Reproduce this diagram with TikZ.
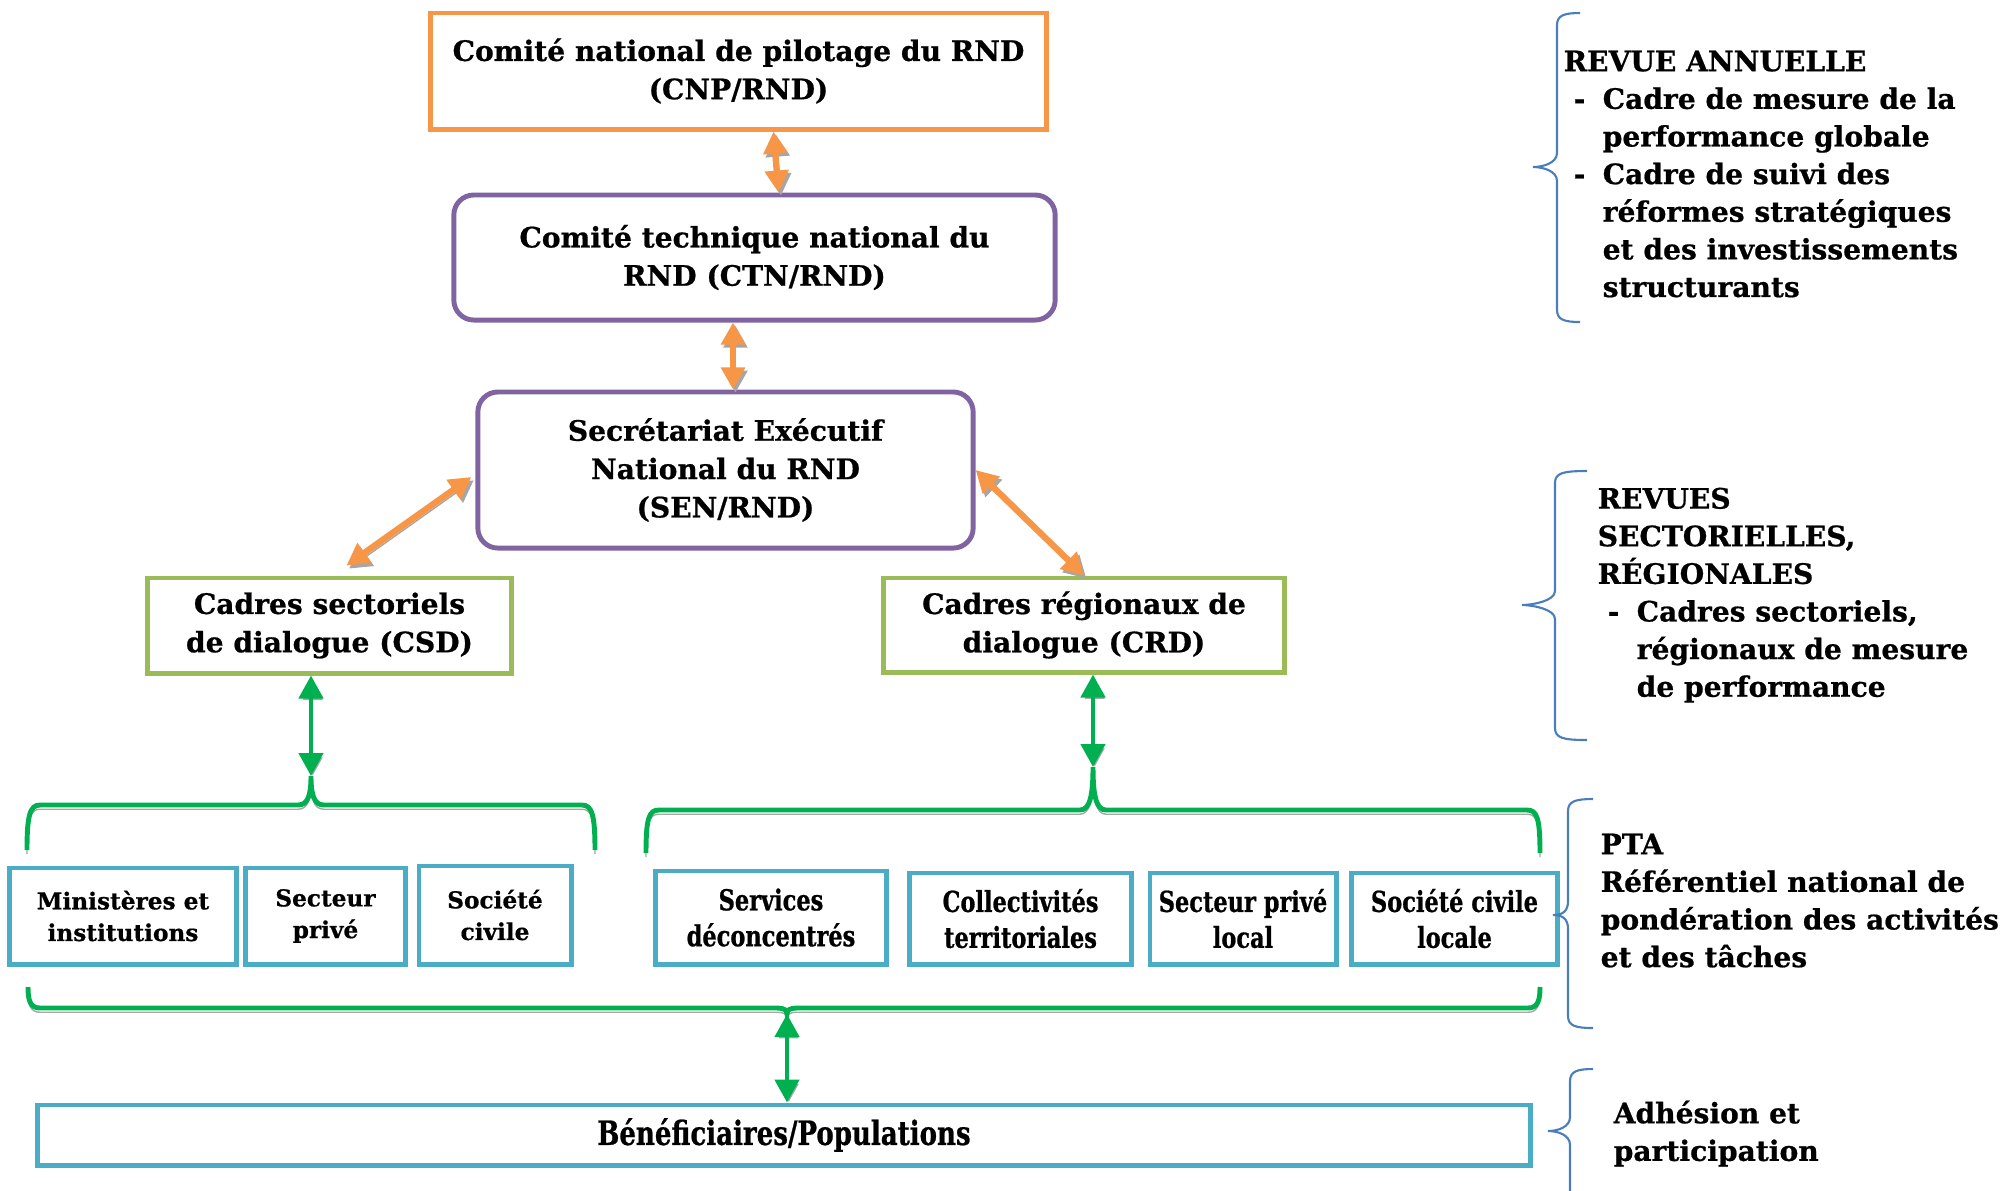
\documentclass[tikz,border=0pt]{standalone}
\usepackage{fontspec}
\setmainfont{DejaVu Serif}[BoldFeatures={FakeBold=0.7}]
\newfontfamily\narrowfont[FakeStretch=0.78,BoldFeatures={FakeBold=0.7}]{DejaVu Serif}
\usepackage{tikz}
\usetikzlibrary{calc,arrows.meta}
\definecolor{orangeline}{HTML}{F79646}
\definecolor{purpleline}{HTML}{8064A2}
\definecolor{oliveline}{HTML}{9BBB59}
\definecolor{blueline}{HTML}{4BACC6}
\definecolor{greenline}{HTML}{00B050}
\definecolor{braceblue}{HTML}{4A7EBB}
\definecolor{shade}{HTML}{A6A6A6}
\newcommand{\dashitem}{\unskip\makebox[3.9mm][l]{\hspace{1mm}-}}
\newcommand{\dashind}{\unskip\hspace*{3.9mm}}
% side brace: end x, straight x, tip x, top y, tip y, bottom y
\newcommand{\sidebrace}[6]{%
  \draw[sbrace] (#1,#4) .. controls (#2+8,#4) and (#2,#4+2) .. (#2,#4+12)
    -- (#2,#5-14) .. controls (#2,#5-4) and (#3+10,#5) .. (#3,#5)
    .. controls (#3+10,#5) and (#2,#5+4) .. (#2,#5+14)
    -- (#2,#6-12) .. controls (#2,#6-2) and (#2+8,#6) .. (#1,#6);}
\tikzset{
  mainbox/.style={draw, line width=1.4pt, align=center, inner sep=0pt,
    font=\fontsize{8}{10.9}\selectfont\bfseries},
  pilot/.style={mainbox, draw=orangeline},
  comite/.style={mainbox, draw=purpleline, rounded corners=0.2cm},
  cadre/.style={mainbox, draw=oliveline},
  acteur/.style={draw=blueline, line width=1.4pt, align=center, inner sep=0pt,
    font=\fontsize{6.6}{9}\selectfont\bfseries},
  acteurn/.style={acteur, font=\narrowfont\bfseries\fontsize{8.2}{10.2}\selectfont},
  revue/.style={anchor=north west, align=left, inner sep=0pt,
    font=\fontsize{8}{10.7}\selectfont\bfseries},
  oarrow/.style={draw=orangeline, line width=1.8pt,
    {Triangle[length=2.2mm,width=2.3mm]}-{Triangle[length=2.2mm,width=2.3mm]},
    preaction={draw=shade, transform canvas={shift={(0.7pt,-0.9pt)}}}},
  garrow/.style={draw=greenline, line width=1.3pt,
    {Triangle[length=2.3mm,width=2.4mm]}-{Triangle[length=2.3mm,width=2.4mm]},
    preaction={draw=shade, transform canvas={shift={(0.5pt,-0.8pt)}}}},
  gbrace/.style={draw=greenline, line width=1.4pt,
    preaction={draw=shade, transform canvas={yshift=-1.2pt}}},
  sbrace/.style={draw=braceblue, line width=0.6pt},
}

\begin{document}
\begin{tikzpicture}[x=0.01cm,y=-0.01cm]
\useasboundingbox (0,0) rectangle (2000,1190);

% pilotage
\node[pilot, minimum width=6.15cm, minimum height=1.16cm] (cnp) at (738.5,71)
  {Comité national de pilotage du RND\\(CNP/RND)};
\node[comite, minimum width=6.01cm, minimum height=1.25cm] (ctn) at (754.5,257.5)
  {Comité technique national du\\RND (CTN/RND)};
\node[comite, minimum width=4.95cm, minimum height=1.56cm] (sen) at (725.5,470)
  {Secrétariat Exécutif\\National du RND\\(SEN/RND)};
\node[cadre, minimum width=3.63cm, minimum height=0.95cm] (csd) at (329.5,625.5)
  {Cadres sectoriels\\de dialogue (CSD)};
\node[cadre, minimum width=4.00cm, minimum height=0.94cm] (crd) at (1084,625)
  {Cadres régionaux de\\dialogue (CRD)};

% acteurs
\node[acteur, minimum width=2.26cm, minimum height=0.96cm] (min) at (123,916)
  {Ministères et\\institutions};
\node[acteur, minimum width=1.59cm, minimum height=0.96cm] (spr) at (325.5,916)
  {Secteur\\privé};
\node[acteur, minimum width=1.52cm, minimum height=0.98cm] (soc) at (495,915)
  {Société\\civile};
\node[acteurn, minimum width=2.30cm, minimum height=0.93cm] (sde) at (771,917.5)
  {Services\\déconcentrés};
\node[acteurn, minimum width=2.21cm, minimum height=0.91cm] (col) at (1020.5,918.5)
  {Collectivités\\territoriales};
\node[acteurn, minimum width=1.86cm, minimum height=0.91cm] (spl) at (1243,918.5)
  {Secteur privé\\local};
\node[acteurn, minimum width=2.05cm, minimum height=0.91cm] (scl) at (1454.5,918.5)
  {Société civile\\locale};
\node[acteur, minimum width=14.92cm, minimum height=0.60cm,
  font=\narrowfont\bfseries\fontsize{9.5}{11}\selectfont] (ben) at (784,1135)
  {Bénéficiaires/Populations};

% accolades vertes
\coordinate (lcusp) at (311,776);
\coordinate (rcusp) at (1093,767);
\coordinate (bcusp) at (787,1014);
\coordinate (ax) at (733,0);
\draw[gbrace] (27,850) .. controls (27,815) and (30,805) .. (40,805) -- (298,805)
  .. controls (308,805) and (311,795) .. (lcusp) .. controls (311,795) and (314,805) .. (324,805)
  -- (582,805) .. controls (592,805) and (595,815) .. (595,850);
\draw[gbrace] (646,853) .. controls (646,818) and (649,810) .. (659,810) -- (1080,810)
  .. controls (1090,810) and (1093,795) .. (rcusp) .. controls (1093,795) and (1096,810) .. (1106,810)
  -- (1527,810) .. controls (1537,810) and (1540,818) .. (1540,853);
\draw[gbrace] (28,987) .. controls (28,1000) and (30,1008) .. (40,1008) -- (777,1008)
  .. controls (784,1008) and (787,1010) .. (bcusp) .. controls (787,1010) and (790,1008) .. (797,1008)
  -- (1528,1008) .. controls (1538,1008) and (1540,1000) .. (1540,987);

% fleches
\draw[oarrow] ($(cnp.south)+(35,0)$) -- ($(ctn.north)+(24,0)$);
\draw[oarrow] (ctn.south -| ax) -- (sen.north -| ax);
\draw[oarrow] ($(sen.west)+(-4,7)$) -- ($(csd.north)+(17,-10)$);
\draw[oarrow] (sen.east) -- (crd.north);
\draw[garrow] (csd.south -| lcusp) -- (lcusp);
\draw[garrow] (crd.south -| rcusp) -- (rcusp);
\draw[garrow] (bcusp) -- (ben.north -| bcusp);

% revues
\sidebrace{1580}{1557}{1533}{13}{167}{322}
\sidebrace{1587}{1555}{1522}{471}{605}{740}
\sidebrace{1593}{1568}{1553}{799}{915}{1028}
\sidebrace{1593}{1570}{1548}{1069}{1131}{1215}
\node[revue] (annuelle) at (1563,50)
  {REVUE ANNUELLE\\
   \dashitem Cadre de mesure de la\\
   \dashind performance globale\\
   \dashitem Cadre de suivi des\\
   \dashind réformes stratégiques\\
   \dashind et des investissements\\
   \dashind structurants};
\node[revue] (sectorielles) at (1597,487)
  {REVUES\\
   SECTORIELLES,\\
   RÉGIONALES\\
   \dashitem Cadres sectoriels,\\
   \dashind régionaux de mesure\\
   \dashind de performance};
\node[revue] (pta) at (1600,833)
  {PTA\\
   Référentiel national de\\
   pondération des activités\\
   et des tâches};
\node[revue] (adhesion) at (1613,1100)
  {Adhésion et\\
   participation};
\end{tikzpicture}
\end{document}
